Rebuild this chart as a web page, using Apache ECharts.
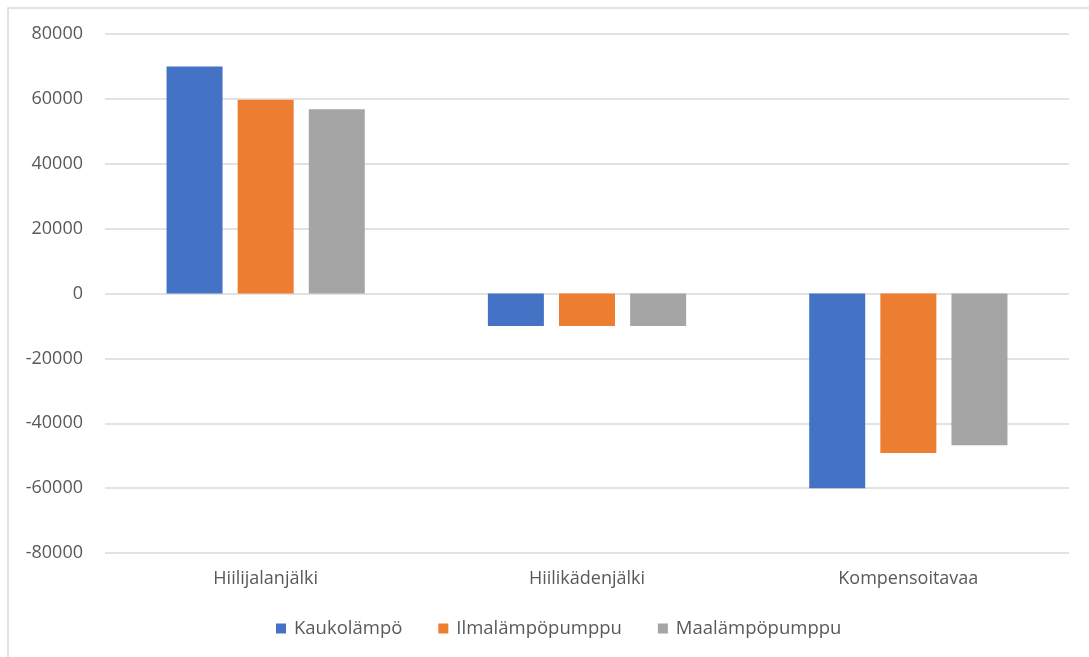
<!DOCTYPE html>
<html>
<head>
<meta charset="utf-8">
<script src="https://cdn.jsdelivr.net/npm/echarts@6/dist/echarts.min.js"></script>
<style>
  html, body { margin: 0; padding: 0; background: #fff; }
  #chart { width: 1089px; height: 657px; }
</style>
</head>
<body>
<div id="chart"></div>
<script>
// Emission categories and heating options
const categories = ['Hiilijalanjälki', 'Hiilikädenjälki', 'Kompensoitavaa'];
const seriesNames = ['Kaukolämpö', 'Ilmalämpöpumppu', 'Maalämpöpumppu'];
const kaukolampo = [70000, -10000, -60000];
const ilmalampopumppu = [59700, -10000, -49200];
const maalampopumppu = [56800, -10000, -46800];
const seriesColors = ['#4472C4', '#ED7D31', '#A5A5A5'];

const textColor = '#595959';
const fontFamily = '"Open Sans", "DejaVu Sans", sans-serif';

const chart = echarts.init(document.getElementById('chart'));

const values = [kaukolampo, ilmalampopumppu, maalampopumppu];

chart.setOption({
  animation: false,
  backgroundColor: '#ffffff',
  graphic: [{
    type: 'rect',
    shape: { x: 8, y: 8, width: 1095, height: 660 },
    style: { fill: 'none', stroke: '#D9D9D9', lineWidth: 1.5 },
    silent: true
  }],
  grid: { left: 105, right: 20, top: 34, bottom: 104, containLabel: false },
  legend: {
    bottom: 14,
    left: 271,
    itemWidth: 10,
    itemHeight: 10,
    itemGap: 36,
    icon: 'rect',
    textStyle: { color: textColor, fontSize: 18.5, fontFamily: fontFamily, padding: [0, 0, 0, 3] },
    data: seriesNames
  },
  xAxis: {
    type: 'category',
    data: categories,
    axisLine: { show: false },
    axisTick: { show: false },
    axisLabel: { color: textColor, fontSize: 18, fontFamily: fontFamily, margin: 17 }
  },
  yAxis: {
    type: 'value',
    min: -80000,
    max: 80000,
    interval: 20000,
    axisLine: { show: false },
    axisTick: { show: false },
    axisLabel: {
      color: textColor, fontSize: 18, fontFamily: fontFamily, margin: 22,
      formatter: v => String(v)
    },
    splitLine: { lineStyle: { color: '#D9D9D9', width: 1.5 } }
  },
  series: seriesNames.map((name, i) => ({
    name: name,
    type: 'bar',
    data: values[i],
    barWidth: 56,
    barGap: '27%',
    itemStyle: { color: seriesColors[i] }
  }))
});
</script>
</body>
</html>
